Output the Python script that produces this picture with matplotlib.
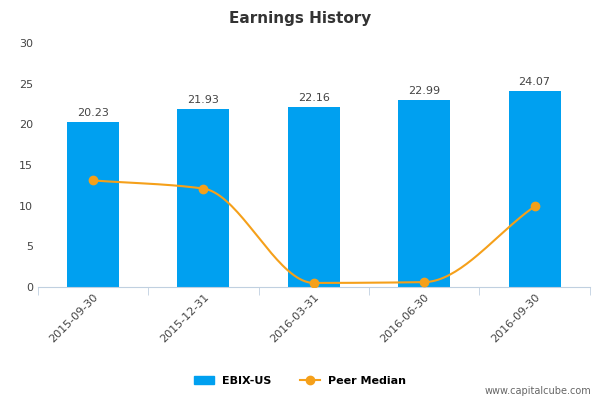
import numpy as np
import matplotlib
matplotlib.use("Agg")
import matplotlib.pyplot as plt

categories = ["2015-09-30", "2015-12-31", "2016-03-31", "2016-06-30", "2016-09-30"]
ebix = [20.23, 21.93, 22.16, 22.99, 24.07]
peer = [13.1, 12.1, 0.5, 0.6, 9.9]

fig = plt.figure(figsize=(6, 4), dpi=100)
ax = fig.add_axes([0.063, 0.2825, 0.92, 0.61])
x = np.arange(len(categories))
ax.bar(x, ebix, width=0.47, color="#00a0f0", zorder=2)
for xi, v in zip(x, ebix):
    ax.text(xi, v + 0.5, f"{v:.2f}", ha="center", va="bottom", fontsize=8, color="#444444")

# monotone cubic (Fritsch-Carlson) curve through peer points
y = np.array(peer, float)
d = np.diff(y)
m = np.zeros_like(y)
m[0], m[-1] = d[0], d[-1]
for i in range(1, len(y) - 1):
    m[i] = 0 if d[i-1] * d[i] <= 0 else 2 / (1/d[i-1] + 1/d[i])
xs, ys = [], []
for i in range(len(y) - 1):
    t = np.linspace(0, 1, 40)
    h00 = 2*t**3 - 3*t**2 + 1; h10 = t**3 - 2*t**2 + t
    h01 = -2*t**3 + 3*t**2; h11 = t**3 - t**2
    xs.append(i + t); ys.append(h00*y[i] + h10*m[i] + h01*y[i+1] + h11*m[i+1])
ax.plot(np.concatenate(xs), np.concatenate(ys), color="#f5a01a", lw=1.5, zorder=3)
ax.plot(x, y, "o", color="#f5a01a", ms=6, zorder=4)

ax.set_xlim(-0.5, 4.5)
ax.set_ylim(0, 30)
ax.set_yticks([0, 5, 10, 15, 20, 25, 30])
ax.tick_params(axis="y", length=0, labelsize=8, labelcolor="#444444")
ax.set_xticks(x)
ax.set_xticklabels(categories, rotation=45, ha="right", rotation_mode="anchor", fontsize=8, color="#444444")
ax.tick_params(axis="x", length=0)
ax.set_xticks(np.arange(-0.5, 5, 1), minor=True)
ax.tick_params(axis="x", which="minor", length=6, color="#c0d0e0")
for s in ["top", "right", "left"]:
    ax.spines[s].set_visible(False)
ax.spines["bottom"].set_color("#c0d0e0")
fig.text(0.5, 0.955, "Earnings History", ha="center", va="center", fontsize=11, fontweight="bold", color="#333333")

from matplotlib.patches import Patch
from matplotlib.lines import Line2D
handles = [Patch(color="#00a0f0", label="EBIX-US"),
           Line2D([0], [0], color="#f5a01a", marker="o", ms=6, lw=1.5, label="Peer Median")]
leg = fig.legend(handles=handles, loc="center", bbox_to_anchor=(0.5, 0.048), ncol=2, frameon=False,
                 prop={"size": 8, "weight": "bold"}, handlelength=1.8, columnspacing=2.5)
fig.text(0.985, 0.022, "www.capitalcube.com", ha="right", va="center", fontsize=7, color="#666666")
fig.savefig("out.png", dpi=100)
